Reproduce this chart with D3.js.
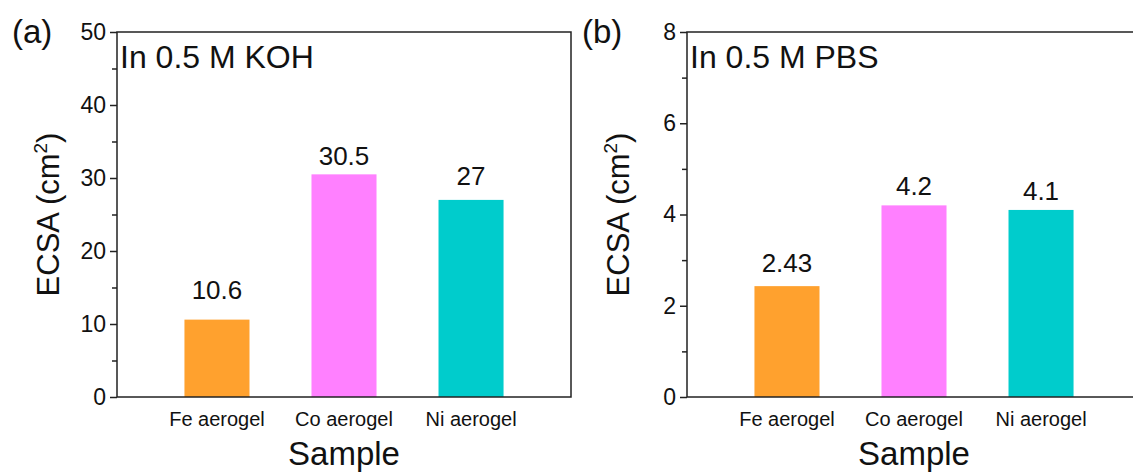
<!DOCTYPE html>
<html>
<head>
<meta charset="utf-8">
<script src="https://cdn.jsdelivr.net/npm/d3@7"></script>
<style>
  body { margin: 0; background: #fff; }
  svg text { font-family: "Liberation Sans", Arial, sans-serif; fill: #111; }
</style>
</head>
<body>
<div id="chart"></div>
<script>
// data
var samples = ["Fe aerogel", "Co aerogel", "Ni aerogel"];
var kohValues = [10.6, 30.5, 27];
var kohLabels = ["10.6", "30.5", "27"];
var pbsValues = [2.43, 4.2, 4.1];
var pbsLabels = ["2.43", "4.2", "4.1"];
var kohTicks = [0, 10, 20, 30, 40, 50];
var pbsTicks = [0, 2, 4, 6, 8];
var barColors = ["#FFA12E", "#FF80FF", "#00CCCC"];

(function () {
    var W = 1133, H = 473;
    var plotW = 454, plotTop = 32, plotBottom = 397;

    var svg = d3.select("#chart")
        .append("svg")
        .attr("width", W)
        .attr("height", H);

    var panels = [
        { left: 117, tag: "(a)", note: "In 0.5 M KOH", values: kohValues, labels: kohLabels,
          ticks: kohTicks, max: 50, minorStep: 5, lift: [21, 9, 15] },
        { left: 687, tag: "(b)", note: "In 0.5 M PBS", values: pbsValues, labels: pbsLabels,
          ticks: pbsTicks, max: 8, minorStep: 1, lift: [14, 10, 10] }
    ];

    panels.forEach(function (p) {
        var g = svg.append("g").attr("transform", "translate(" + p.left + ",0)");

        var x = d3.scaleBand()
            .domain(samples)
            .range([0, plotW])
            .paddingInner(0.488)
            .paddingOuter(0.531);

        var y = d3.scaleLinear()
            .domain([0, p.max])
            .range([plotBottom, plotTop]);

        // bars
        g.selectAll(".bar")
            .data(p.values)
            .enter().append("rect")
            .attr("class", "bar")
            .attr("x", function (d, i) { return x(samples[i]); })
            .attr("width", x.bandwidth())
            .attr("y", function (d) { return y(d); })
            .attr("height", function (d) { return y(0) - y(d); })
            .attr("fill", function (d, i) { return barColors[i]; });

        // value labels
        g.selectAll(".val")
            .data(p.values)
            .enter().append("text")
            .attr("class", "val")
            .attr("x", function (d, i) { return x(samples[i]) + x.bandwidth() / 2; })
            .attr("y", function (d, i) { return y(d) - p.lift[i]; })
            .attr("text-anchor", "middle")
            .attr("font-size", 26)
            .text(function (d, i) { return p.labels[i]; });

        // minor ticks
        var minor = d3.range(p.minorStep, p.max, p.minorStep * 2);
        var minorAxis = d3.axisLeft(y).tickValues(minor).tickSize(5).tickFormat("");
        g.append("g").call(minorAxis)
            .call(function (s) { s.select(".domain").remove(); })
            .selectAll("line").attr("stroke", "#222").attr("stroke-width", 1.5);

        // major ticks
        var yAxis = d3.axisLeft(y).tickValues(p.ticks).tickSize(7).tickPadding(4);
        var ya = g.append("g").call(yAxis);
        ya.select(".domain").remove();
        ya.selectAll("line").attr("stroke", "#222").attr("stroke-width", 1.5);
        ya.selectAll("text")
            .attr("font-size", 23)
            .attr("font-family", "Liberation Sans, Arial, sans-serif")
            .attr("fill", "#111");

        // frame
        g.append("rect")
            .attr("x", 0).attr("y", plotTop)
            .attr("width", plotW).attr("height", plotBottom - plotTop)
            .attr("fill", "none")
            .attr("stroke", "#222")
            .attr("stroke-width", 1.5);

        // category labels
        var xAxis = d3.axisBottom(x).tickSize(0).tickPadding(15);
        var xa = g.append("g").attr("transform", "translate(0," + plotBottom + ")").call(xAxis);
        xa.select(".domain").remove();
        xa.selectAll("text")
            .attr("font-size", 20)
            .attr("font-family", "Liberation Sans, Arial, sans-serif")
            .attr("fill", "#111");

        // axis titles
        g.append("text")
            .attr("x", x("Co aerogel") + x.bandwidth() / 2)
            .attr("y", 465)
            .attr("text-anchor", "middle")
            .attr("font-size", 33)
            .text("Sample");

        var yt = g.append("text")
            .attr("transform", "translate(-58," + (plotTop + plotBottom) / 2 + ") rotate(-90)")
            .attr("text-anchor", "middle")
            .attr("font-size", 31);
        yt.append("tspan").text("ECSA (cm");
        yt.append("tspan").attr("font-size", 19).attr("dy", -12).text("2");
        yt.append("tspan").attr("dy", 12).text(")");

        // panel note and tag
        g.append("text")
            .attr("x", 3)
            .attr("y", 68)
            .attr("font-size", 32)
            .text(p.note);

        g.append("text")
            .attr("x", -105)
            .attr("y", 43)
            .attr("font-size", 33)
            .text(p.tag);
    });
})()
</script>
</body>
</html>
